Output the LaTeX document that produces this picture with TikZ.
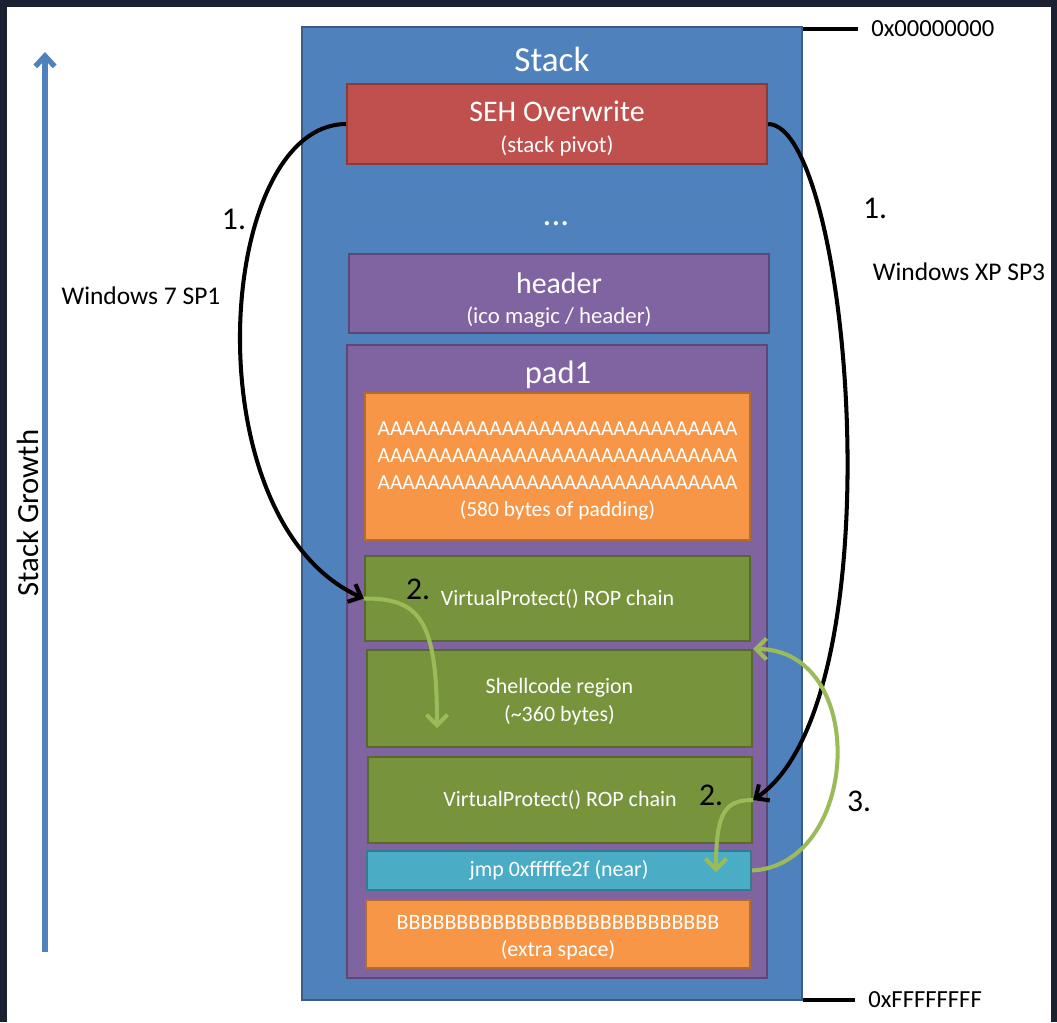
\documentclass[tikz,border=0pt]{standalone}
\usepackage{fontspec}
\setmainfont{Carlito}
\usetikzlibrary{arrows.meta}
\definecolor{cframe}{HTML}{1B2130}
\definecolor{cstack}{HTML}{4F81BD}
\definecolor{cred}{HTML}{C0504D}
\definecolor{cpurple}{HTML}{8064A2}
\definecolor{corange}{HTML}{F79646}
\definecolor{cgreen}{HTML}{77933C}
\definecolor{ccyan}{HTML}{4BACC6}
\definecolor{carrow}{HTML}{9BBB59}
\newcommand{\fs}[2]{\fontsize{#1}{#2}\selectfont}
\tikzset{
  every picture/.style={line width=1.2pt},
  blk/.style={draw=#1!72!black, fill=#1, text=white, align=center, inner sep=0pt, line width=1.3pt},
  sz/.style 2 args={minimum width=#1*0.02cm, minimum height=#2*0.02cm},
  lbl/.style={font=\fs{14.5}{17}, text=black, inner sep=1pt},
  num/.style={font=\fs{18}{20}, text=black, inner sep=1pt},
  addr/.style={font=\fs{14}{17}, text=black, inner xsep=7pt, inner ysep=0pt},
  jumparrow/.style={-{Straight Barb[length=6pt, width=11pt]}, draw=black, line width=2.3pt},
  hoparrow/.style={-{Straight Barb[length=6pt, width=12pt]}, draw=carrow, line width=2.3pt},
  growarrow/.style={-{Straight Barb[length=6pt, width=11pt]}, draw=cstack, line width=3pt},
}

\begin{document}
\begin{tikzpicture}[x=0.02cm, y=-0.02cm]
  % frame
  \fill[cframe] (0,0) rectangle (1057,1022);
  \fill[white] (7,7) rectangle (1051,1022);
  \useasboundingbox (0,0) rectangle (1057,1022);

  % stack layout
  \node[blk=cstack, sz={500}{973}] (stack) at (552,513.5) {};
  \node[font=\fs{20}{24}, text=white] (stacktitle) at (552,59) {Stack};
  \node[blk=cred, sz={420}{80}, font=\fs{13}{17.5}] (seh) at (557,124)
    {\rule{0pt}{17pt}{\fs{17}{17.5}SEH Overwrite}\\(stack pivot)};
  \node[font=\fs{20}{24}, text=white] (dots) at (556,224) {...};
  \node[blk=cpurple, sz={420}{79}, font=\fs{13}{17}] (header) at (559,293.5)
    {\rule{0pt}{19pt}{\fs{17}{17}header}\\(ico magic / header)};
  \node[blk=cpurple, sz={420}{633}] (pad1) at (557,661.5) {};
  \node[font=\fs{18.5}{20}, text=white] (padtitle) at (558,375) {pad1};
  \node[blk=corange, sz={385}{147}, font=\fs{12.2}{15.3}] (padA) at (557.5,466.5)
    {\rule{0pt}{13pt}AAAAAAAAAAAAAAAAAAAAAAAAAAAAA\\AAAAAAAAAAAAAAAAAAAAAAAAAAAAA\\AAAAAAAAAAAAAAAAAAAAAAAAAAAAA\\(580 bytes of padding)};
  \node[blk=cgreen, sz={385}{85}, font=\fs{12.5}{15}] (rop1) at (557.5,598.5) {VirtualProtect() ROP chain};
  \node[blk=cgreen, sz={385}{97}, font=\fs{12.5}{16}] (shell) at (559.5,698.5) {\rule{0pt}{12pt}Shellcode region\\(\textasciitilde360 bytes)};
  \node[blk=cgreen, sz={384}{86}, font=\fs{12.5}{15}] (rop2) at (560,800) {VirtualProtect() ROP chain};
  \node[blk=ccyan, sz={384}{39}, font=\fs{12.5}{15}] (jmp) at (559,870.5) {jmp 0xfffffe2f (near)};
  \node[blk=corange, sz={384}{68}, font=\fs{12.5}{15.3}] (extra) at (558,934)
    {\rule{0pt}{12pt}BBBBBBBBBBBBBBBBBBBBBBBBBBB\\(extra space)};

  % addresses
  \node[addr, anchor=west] (lo) at (858,29) {0x00000000};
  \node[addr, anchor=west] (hi) at (855,1000) {0xFFFFFFFF};
  \draw[line width=1.8pt] (stack.north east |- lo) -- (lo.west);
  \draw[line width=1.8pt] (stack.south east |- hi) -- (hi.west);

  % stack growth
  \coordinate (gbot) at (45,952);
  \coordinate (gtop) at (45,52);
  \draw[growarrow] (gbot) -- (gtop);
  \node[font=\fs{17.5}{20}, rotate=90] (growth) at (28,513) {Stack Growth};

  % first hop, both targets
  \draw[jumparrow] (seh.west) .. controls (215,125) and (190,520) .. (rop1.west);
  \draw[jumparrow] (seh.east) .. controls (850,125) and (900,700) .. (rop2.east);
  \node[num] (one7) at (234,219) {1.};
  \node[lbl] (win7) at (141,296) {Windows 7 SP1};
  \node[num] (onexp) at (875,208) {1.};
  \node[lbl] (winxp) at (959,272) {Windows XP SP3};

  % rop chain into shellcode
  \coordinate (g1) at (437,728);
  \coordinate (g2) at (716,872);
  \draw[hoparrow] (rop1.west) .. controls (420,598) and (437,620) .. (g1);
  \draw[hoparrow] (rop2.east) .. controls (725,800) and (716,812) .. (g2);
  \draw[hoparrow] (jmp.east) .. controls (860,865) and (870,650) .. (shell.north east);
  \node[num] (two7) at (418,589) {2.};
  \node[num] (twoxp) at (711,795) {2.};
  \node[num] (three) at (859,801) {3.};
\end{tikzpicture}
\end{document}
